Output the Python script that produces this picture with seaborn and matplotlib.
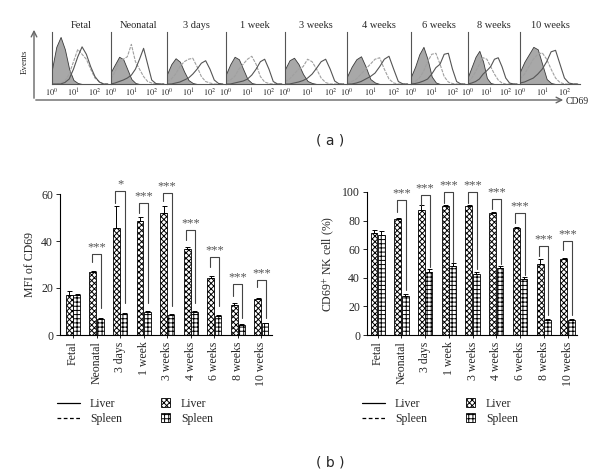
import numpy as np
import pandas as pd
import seaborn as sns
import matplotlib.pyplot as plt
from matplotlib.lines import Line2D
from matplotlib.patches import Patch

ages = ["Fetal", "Neonatal", "3 days", "1 week", "3 weeks",
        "4 weeks", "6 weeks", "8 weeks", "10 weeks"]

# (a) CD69 histograms, heights read at log10(CD69) = 0, 0.2, ... 2.6
log_cd69 = [0.0, 0.2, 0.4, 0.6, 0.8, 1.0, 1.2, 1.4, 1.6, 1.8, 2.0, 2.2, 2.4, 2.6]
iso_hist = [
    [0.30, 0.75, 0.95, 0.70, 0.30, 0.08, 0.02, 0, 0, 0, 0, 0, 0, 0],
    [0.25, 0.40, 0.55, 0.50, 0.30, 0.10, 0.02, 0, 0, 0, 0, 0, 0, 0],
    [0.20, 0.40, 0.52, 0.45, 0.25, 0.08, 0.02, 0, 0, 0, 0, 0, 0, 0],
    [0.20, 0.40, 0.55, 0.50, 0.30, 0.10, 0.02, 0, 0, 0, 0, 0, 0, 0],
    [0.30, 0.48, 0.53, 0.40, 0.20, 0.06, 0.02, 0, 0, 0, 0, 0, 0, 0],
    [0.15, 0.35, 0.50, 0.56, 0.35, 0.10, 0.03, 0, 0, 0, 0, 0, 0, 0],
    [0.15, 0.35, 0.60, 0.75, 0.50, 0.15, 0.03, 0, 0, 0, 0, 0, 0, 0],
    [0.15, 0.35, 0.55, 0.67, 0.45, 0.12, 0.02, 0, 0, 0, 0, 0, 0, 0],
    [0.25, 0.45, 0.60, 0.75, 0.70, 0.40, 0.10, 0.02, 0, 0, 0, 0, 0, 0],
]
liver_hist = [
    [0, 0, 0, 0.03, 0.10, 0.30, 0.55, 0.75, 0.60, 0.35, 0.15, 0.04, 0, 0],
    [0, 0.02, 0.05, 0.08, 0.12, 0.18, 0.30, 0.50, 0.72, 0.40, 0.08, 0.01, 0, 0],
    [0, 0, 0.02, 0.04, 0.08, 0.12, 0.20, 0.30, 0.42, 0.47, 0.30, 0.08, 0.01, 0],
    [0, 0, 0.02, 0.04, 0.06, 0.10, 0.18, 0.30, 0.45, 0.50, 0.30, 0.05, 0, 0],
    [0, 0, 0.02, 0.04, 0.07, 0.12, 0.20, 0.32, 0.45, 0.50, 0.30, 0.06, 0, 0],
    [0, 0, 0.02, 0.05, 0.10, 0.15, 0.22, 0.35, 0.50, 0.56, 0.30, 0.05, 0, 0],
    [0, 0.01, 0.03, 0.06, 0.10, 0.20, 0.33, 0.40, 0.60, 0.62, 0.30, 0.05, 0, 0],
    [0, 0.02, 0.05, 0.10, 0.20, 0.27, 0.35, 0.50, 0.53, 0.35, 0.12, 0.02, 0, 0],
    [0.02, 0.04, 0.08, 0.12, 0.20, 0.30, 0.45, 0.65, 0.68, 0.40, 0.12, 0.02, 0, 0],
]
spleen_hist = [
    [0, 0, 0.02, 0.06, 0.20, 0.45, 0.70, 0.60, 0.50, 0.30, 0.12, 0.05, 0, 0],
    [0.10, 0.25, 0.45, 0.50, 0.55, 0.80, 0.45, 0.30, 0.15, 0.05, 0.02, 0, 0, 0],
    [0.05, 0.10, 0.20, 0.35, 0.45, 0.50, 0.52, 0.35, 0.15, 0.05, 0.02, 0, 0, 0],
    [0.05, 0.08, 0.15, 0.30, 0.40, 0.50, 0.56, 0.40, 0.15, 0.04, 0.01, 0, 0, 0],
    [0.05, 0.10, 0.20, 0.30, 0.35, 0.50, 0.45, 0.30, 0.12, 0.03, 0, 0, 0, 0],
    [0.02, 0.05, 0.10, 0.20, 0.30, 0.40, 0.50, 0.53, 0.30, 0.10, 0.02, 0, 0, 0],
    [0.02, 0.05, 0.12, 0.25, 0.45, 0.60, 0.62, 0.40, 0.15, 0.04, 0.01, 0, 0, 0],
    [0.05, 0.12, 0.25, 0.40, 0.53, 0.50, 0.35, 0.20, 0.08, 0.02, 0, 0, 0, 0],
    [0.10, 0.20, 0.35, 0.50, 0.60, 0.63, 0.50, 0.30, 0.12, 0.03, 0, 0, 0, 0],
]

# (b) left: MFI of CD69
mfi_liver = [17.2, 27.0, 45.6, 48.6, 51.9, 36.6, 24.1, 12.8, 15.3]
mfi_liver_err = [1.5, 0.3, 9.2, 1.5, 2.8, 0.8, 1.0, 0.8, 0.5]
mfi_spleen = [17.0, 6.9, 9.1, 9.8, 8.5, 9.8, 8.1, 4.4, 5.0]
mfi_spleen_err = [0.4, 0.2, 0.3, 0.3, 0.3, 0.3, 0.3, 0.2, 0.3]
mfi_br_top = [None, 34.5, 61.4, 56.1, 60.4, 44.8, 33.0, 21.7, 23.6]
mfi_br_left = [None, 31.0, 56.0, 52.0, 57.0, 40.5, 29.0, 16.8, 20.6]
mfi_br_right = [None, 11.4, 13.5, 13.8, 12.5, 13.8, 12.5, 7.2, 7.2]
mfi_marks = ["", "***", "*", "***", "***", "***", "***", "***", "***"]

# (b) right: CD69+ NK cell (%)
pct_liver = [71.3, 81.3, 87.1, 90.4, 90.2, 85.3, 74.8, 50.0, 53.0]
pct_liver_err = [2.0, 0.5, 3.5, 0.5, 0.5, 0.5, 1.0, 3.0, 1.0]
pct_spleen = [69.9, 27.5, 44.4, 48.3, 42.7, 47.2, 39.2, 10.5, 10.5]
pct_spleen_err = [2.5, 1.5, 1.5, 2.0, 1.2, 1.2, 1.5, 0.5, 0.5]
pct_br_top = [None, 94.6, 98.0, 100.0, 100.0, 95.3, 85.3, 62.4, 65.9]
pct_br_left = [None, 86.0, 90.6, 92.0, 92.0, 88.0, 78.3, 54.9, 59.6]
pct_br_right = [None, 31.5, 47.9, 51.0, 46.0, 50.0, 42.0, 14.0, 14.0]
pct_marks = ["", "***", "***", "***", "***", "***", "***", "***", "***"]

sns.set_style("ticks")
plt.rcParams["font.family"] = ["Liberation Serif", "DejaVu Serif"]
plt.rcParams["mathtext.fontset"] = "stix"
plt.rcParams["hatch.linewidth"] = 0.7

W, H = 600, 474
fig = plt.figure(figsize=(6, 4.74), dpi=100)


def px_axes(x0, y0, x1, y1):
    return fig.add_axes([x0 / W, 1 - y1 / H, (x1 - x0) / W, (y1 - y0) / H])


# overlay for arrows and panel letters, in pixel coordinates
over = fig.add_axes([0, 0, 1, 1])
over.set_xlim(0, W)
over.set_ylim(H, 0)
over.axis("off")

# ---------- (a) histograms ----------
lefts = [52, 111, 167, 226, 285, 347, 411, 468, 520]
xs = 10 ** np.array(log_cd69)
for i, age in enumerate(ages):
    right = lefts[i + 1] - 1 if i < 8 else 580
    ax = px_axes(lefts[i], 32, right, 84)
    ax.fill_between(xs, iso_hist[i], color="#a8a8a8", edgecolor="#3a3a3a", lw=0.6)
    ax.plot(xs, spleen_hist[i], color="#a0a0a0", lw=0.8, ls=(0, (3, 1)))
    ax.plot(xs, liver_hist[i], color="#555555", lw=0.8)
    ax.set_xscale("log")
    ax.set_xlim(1, 10 ** 2.7)
    ax.set_ylim(0, 1.05)
    ax.set_yticks([])
    ax.set_xticks([1, 10, 100])
    ax.set_xticklabels(["$10^0$", "$10^1$", "$10^2$"], fontsize=6)
    ax.minorticks_off()
    ax.tick_params(axis="x", length=0, pad=2)
    ax.set_title(age, fontsize=7.5, pad=3)
    sns.despine(ax=ax)
    for s in ["left", "bottom"]:
        ax.spines[s].set_color("#555555")
        ax.spines[s].set_linewidth(0.8)
    ax.patch.set_alpha(0)

over.annotate("", xy=(34, 27), xytext=(34, 101),
              arrowprops=dict(arrowstyle="->", color="#666666", lw=1.0))
over.annotate("", xy=(566, 100), xytext=(33, 100),
              arrowprops=dict(arrowstyle="->", color="#666666", lw=1.0))
over.text(25, 62, "Events", rotation=90, ha="center", va="center", fontsize=6.5)
over.text(577, 101, "CD69", ha="center", va="center", fontsize=7)
over.text(330, 141, "( a )", ha="center", va="center", fontsize=10,
          family="DejaVu Sans")
over.text(330, 462, "( b )", ha="center", va="center", fontsize=10,
          family="DejaVu Sans")

# ---------- (b) bar charts ----------
hatches = ["xxxxxx", "++++"]


def bar_panel(ax, liver, liver_err, spleen, spleen_err, br_top, br_left,
              br_right, marks, ylim, yticks, ylabel, xlim):
    df = pd.DataFrame({
        "age": ages * 2,
        "tissue": ["Liver"] * 9 + ["Spleen"] * 9,
        "value": liver + spleen,
    })
    sns.barplot(data=df, x="age", y="value", hue="tissue", order=ages,
                palette=["white", "white"], edgecolor="black", linewidth=0.6,
                width=0.62, gap=0.06, errorbar=None, legend=False, ax=ax)
    bars = ax.patches[:18]
    centers = []
    for k, p in enumerate(bars):
        p.set_hatch(hatches[k // 9])
        centers.append(p.get_x() + p.get_width() / 2)
    xl = np.array(centers[:9])
    xr = np.array(centers[9:])
    ax.errorbar(xl, liver, yerr=[np.zeros(9), liver_err], fmt="none",
                ecolor="black", elinewidth=0.7, capsize=1.8, capthick=0.7)
    ax.errorbar(xr, spleen, yerr=[np.zeros(9), spleen_err], fmt="none",
                ecolor="black", elinewidth=0.7, capsize=1.8, capthick=0.7)
    for g in range(9):
        if br_top[g] is None:
            continue
        ax.plot([xl[g] - 0.04, xl[g] - 0.04, xr[g] + 0.04, xr[g] + 0.04],
                [br_left[g], br_top[g], br_top[g], br_right[g]],
                color="#444444", lw=0.8, clip_on=False)
        ax.annotate(marks[g], ((xl[g] + xr[g]) / 2, br_top[g]),
                    xytext=(0, 0.5), textcoords="offset points",
                    ha="center", va="bottom", fontsize=9, color="#555555",
                    annotation_clip=False)
    ax.set_ylim(*ylim)
    ax.set_xlim(*xlim)
    ax.set_yticks(yticks)
    ax.set_xlabel("")
    ax.set_ylabel(ylabel, fontsize=8.5, labelpad=4)
    ax.tick_params(axis="y", labelsize=8.5, length=3, width=0.7, pad=2)
    ax.tick_params(axis="x", labelsize=8.5, length=2.5, width=0.7,
                   labelrotation=90, pad=2)
    sns.despine(ax=ax)
    for s in ["left", "bottom"]:
        ax.spines[s].set_linewidth(0.8)
        ax.spines[s].set_color("black")


ax1 = px_axes(60, 194, 272, 335)
bar_panel(ax1, mfi_liver, mfi_liver_err, mfi_spleen, mfi_spleen_err,
          mfi_br_top, mfi_br_left, mfi_br_right, mfi_marks,
          (0, 60), [0, 20, 40, 60], "MFI of CD69", (-0.55, 8.45))

ax2 = px_axes(367, 192, 577, 335)
bar_panel(ax2, pct_liver, pct_liver_err, pct_spleen, pct_spleen_err,
          pct_br_top, pct_br_left, pct_br_right, pct_marks,
          (0, 100), [0, 20, 40, 60, 80, 100], "CD69$^{+}$ NK cell (%)",
          (-0.45, 8.4))

line_handles = [
    Line2D([], [], color="black", lw=0.9),
    Line2D([], [], color="black", lw=0.9, ls=(0, (3, 2))),
]
patch_handles = [
    Patch(facecolor="white", edgecolor="black", hatch=hatches[0], lw=0.6),
    Patch(facecolor="white", edgecolor="black", hatch=hatches[1], lw=0.6),
]
labels = ["Liver", "Spleen"]
for x_line, x_patch in [(52, 156), (357, 461)]:
    fig.legend(line_handles, labels, frameon=False, fontsize=8.5,
               loc="upper left", bbox_to_anchor=(x_line / W, 1 - 393 / H),
               handlelength=2.0, handletextpad=0.8, labelspacing=0.25,
               borderaxespad=0)
    fig.legend(patch_handles, labels, frameon=False, fontsize=8.5,
               loc="upper left", bbox_to_anchor=(x_patch / W, 1 - 393 / H),
               handlelength=0.8, handleheight=0.8, handletextpad=0.9,
               labelspacing=0.25, borderaxespad=0)

fig.savefig("out.png", dpi=100)
